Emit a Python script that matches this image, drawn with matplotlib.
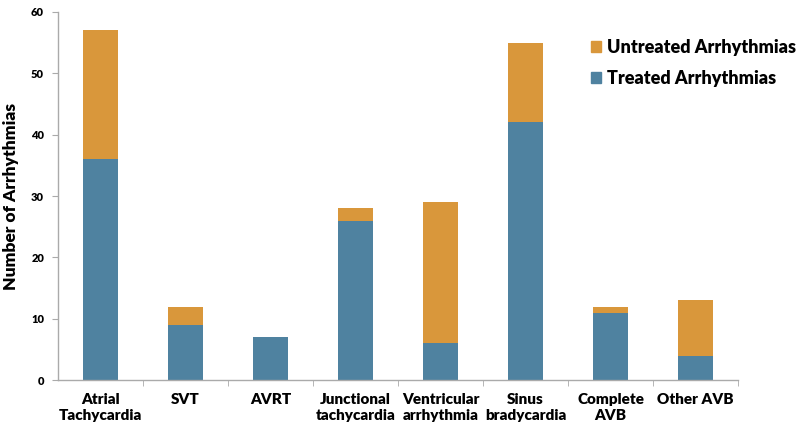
import matplotlib
matplotlib.use("Agg")
import matplotlib.pyplot as plt
from matplotlib.patches import Patch

categories = ["Atrial\nTachycardia", "SVT", "AVRT", "Junctional\ntachycardia",
              "Ventricular\narrhythmia", "Sinus\nbradycardia", "Complete\nAVB", "Other AVB"]
treated = [36, 9, 7, 26, 6, 42, 11, 4]
untreated = [21, 3, 0, 2, 23, 13, 1, 9]
y_ticks = [0, 10, 20, 30, 40, 50, 60]

blue = "#4F82A0"
orange = "#D9973B"
axis_color = "#AAAAAA"

plt.rcParams['font.family'] = ['Lato', 'DejaVu Sans']

fig = plt.figure(figsize=(8, 4.36), dpi=100)
ax = fig.add_axes([0.0725, 0.128, 0.85, 0.8445])

x = list(range(len(categories)))
ax.bar(x, treated, width=0.41, color=blue, zorder=2)
ax.bar(x, untreated, width=0.41, bottom=treated, color=orange, zorder=2)

ax.set_xlim(-0.5, len(categories) - 0.5)
ax.set_ylim(0, 60)
ax.set_yticks(y_ticks)
ax.set_yticklabels([str(v) for v in y_ticks], fontsize=8, fontweight='heavy')
ax.set_ylabel("Number of Arrhythmias", fontsize=12.5, fontweight='heavy', labelpad=9)

ax.set_xticks(x)
ax.set_xticklabels(categories, fontsize=11, fontweight='heavy', linespacing=1.3)
ax.tick_params(axis='x', length=0, pad=9)
ax.set_xticks([i + 0.5 for i in x], minor=True)
ax.tick_params(axis='x', which='minor', length=4, color=axis_color, direction='out')
ax.tick_params(axis='y', length=4, color=axis_color, direction='out', pad=6)

for s in ['top', 'right']:
    ax.spines[s].set_visible(False)
for s in ['left', 'bottom']:
    ax.spines[s].set_color(axis_color)
    ax.spines[s].set_linewidth(1.0)

handles = [Patch(color=orange, label="Untreated Arrhythmias"),
           Patch(color=blue, label="Treated Arrhythmias")]
leg = ax.legend(handles=handles, loc='upper left', bbox_to_anchor=(0.76, 0.97),
                frameon=False, prop={'size': 13, 'weight': 'heavy'},
                handlelength=0.55, handleheight=0.55, handletextpad=0.35, labelspacing=0.75)

fig.savefig("out.png", dpi=100)
